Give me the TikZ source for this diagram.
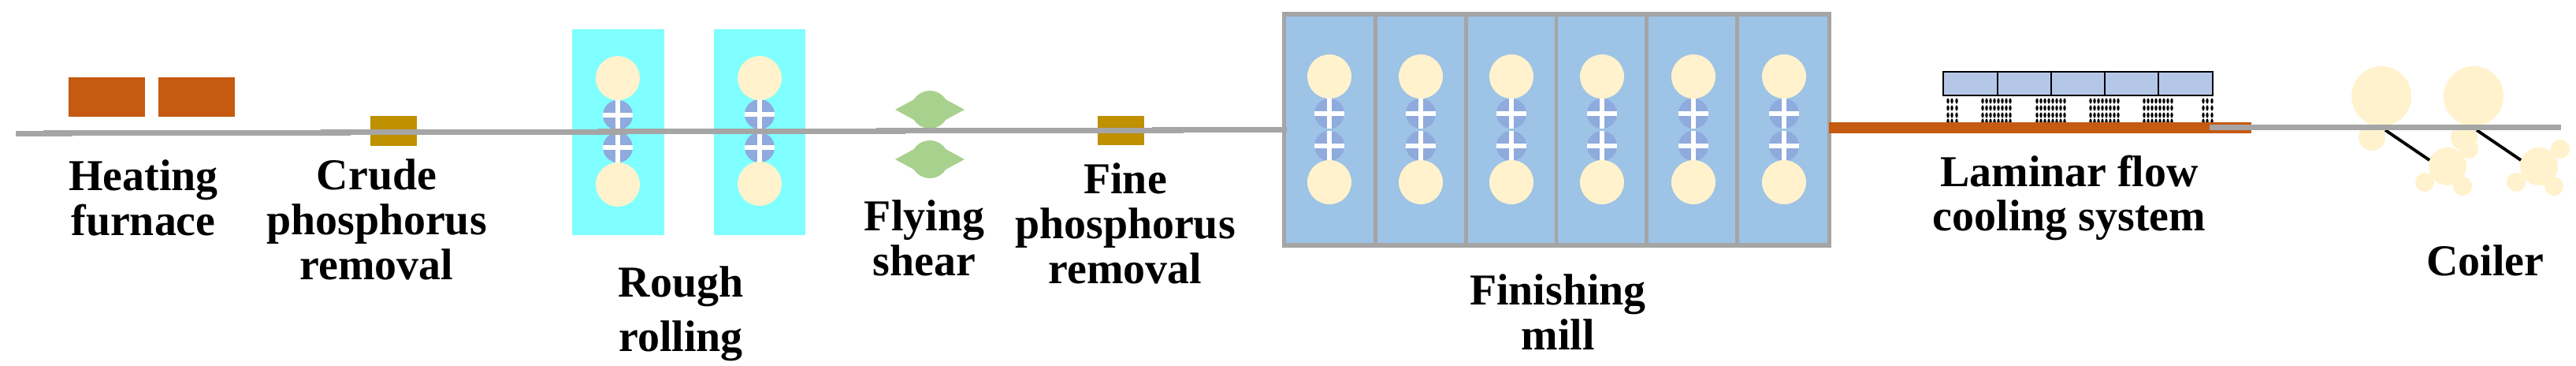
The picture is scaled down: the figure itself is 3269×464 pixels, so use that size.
\documentclass[tikz,border=0pt]{standalone}
\usepackage{fontspec}
\setmainfont{Liberation Serif}
\usetikzlibrary{calc}

\definecolor{stripGray}{HTML}{A5A5A5}
\definecolor{hotOrange}{HTML}{C55A11}
\definecolor{scaleGold}{HTML}{BF9000}
\definecolor{roughCyan}{HTML}{7FFFFF}
\definecolor{finishBlue}{HTML}{9DC3E6}
\definecolor{rollCream}{HTML}{FFF2CC}
\definecolor{rollBlue}{HTML}{8FAADC}
\definecolor{shearGreen}{HTML}{A9D18E}
\definecolor{coolBlue}{HTML}{B4C7E7}

\tikzset{
	stepText/.style = {font = \fontsize{15.9}{16.2}\selectfont\bfseries, align = center, inner sep = 0pt, anchor = base},
	stripLine/.style = {stripGray, line width = 2pt},
	crossLine/.style = {white, line width = 1.45pt},
	linkLine/.style = {black, line width = 1.1pt},
	boxLine/.style = {black, line width = 0.35pt}
}

\begin{document}
\begin{tikzpicture}[x = 0.01cm, y = -0.01cm]
		\useasboundingbox (0,0) rectangle (3269,464);

		% furnace and scale removal
		\fill [hotOrange] (87,98) rectangle (184,148);
		\fill [hotOrange] (201,98) rectangle (298,148);
		\fill [scaleGold] (470,147) rectangle (529,185);
		\fill [scaleGold] (1393,147) rectangle (1452,184);

		% stands
		\fill [roughCyan] (726,37) rectangle (843,298);
		\fill [roughCyan] (906,37) rectangle (1022,298);
		\fill [finishBlue] (1629,18) rectangle (2321,311);
		\draw [stripGray, line width = 1.6pt] (1629.5,18) rectangle (2321.5,311);
		\foreach \x in {1745.5, 1860.5, 1975, 2089.5, 2204.5}
			\draw [stripGray, line width = 1.4pt] (\x,18) -- (\x,311);

		\foreach \x/\yA/\yB/\yC/\yD in {784/99/146/187/234, 964/99/145/187/233, 1687/97/144/185/231, 1803/97/144/185/231, 1918/97/144/185/231, 2033/97/144/185/231, 2149/97/144/185/231, 2264/97/144/185/231} {
			\fill [rollBlue] (\x,\yB) circle [radius = 19];
			\fill [rollBlue] (\x,\yC) circle [radius = 19];
			\draw [crossLine] (\x-19,\yB) -- (\x+19,\yB);
			\draw [crossLine] (\x-19,\yC) -- (\x+19,\yC);
			\draw [crossLine] (\x,\yB-19) -- (\x,\yB+19);
			\draw [crossLine] (\x,\yC-19) -- (\x,\yC+19);
			\fill [rollCream] (\x,\yA) circle [radius = 28];
			\fill [rollCream] (\x,\yD) circle [radius = 28];
		}

		% flying shear
		\foreach \y in {139, 202} {
			\fill [shearGreen] (1180,\y) circle [radius = 24];
			\fill [shearGreen] (1136,\y) -- (1160,\y-13) -- (1200,\y-13) -- (1224,\y) -- (1200,\y+13) -- (1160,\y+13) -- cycle;
		}

		% laminar cooling
		\foreach \y in {128, 137, 146, 154} {
			\foreach \x in {2472, 2477, 2483, 2796, 2801, 2807}
				\fill (\x,\y) ellipse [x radius = 1.7, y radius = 3.5];
			\foreach \s in {2516, 2585, 2653, 2721}
				\foreach \k in {0,...,7}
					\fill (\s+5*\k,\y) ellipse [x radius = 1.7, y radius = 3.5];
		}
		\draw [boxLine, fill = coolBlue] (2466,91) rectangle (2808,121);
		\foreach \x in {2535, 2603, 2671, 2739}
			\draw [boxLine] (\x,91) -- (\x,121);
		\fill [hotOrange] (2321,155) rectangle (2857,169);

		% coilers
		\foreach \x/\dx in {3022/0, 3139/116} {
			\fill [rollCream] (\x,122) circle [radius = 38];
			\fill [rollCream] (\x-12,174) circle [radius = 17];
			\fill [rollCream] (3106+\dx,211) circle [radius = 24];
			\fill [rollCream] (3077+\dx,231) circle [radius = 12];
			\fill [rollCream] (3125+\dx,236) circle [radius = 12];
			\fill [rollCream] (3133+\dx,189) circle [radius = 12];
			\draw [linkLine] (3027+\dx,165) -- (3083+\dx,203);
		}

		% strip
		\begin{scope}[stripLine]
			\draw (20,169.5) -- (92,169.5);
			\draw (55,168.5) -- (445,168.5);
			\draw (407,167.5) -- (797,167.5);
			\draw (759,166.5) -- (1149,166.5);
			\draw (1112,165.5) -- (1502,165.5);
			\draw (1462,164.2) -- (1633,164.2);
			\draw (2804,161.5) -- (3250,161.5);
		\end{scope}

		\node [stepText] (heatingText) at (182,298) {Heating\\furnace};
		\node [stepText] (crudeText) at (478,354) {Crude\\phosphorus\\removal};
		\node [stepText] (roughText) at (864,445) {Rough\\[3.4pt]rolling};
		\node [stepText] (shearText) at (1173,349) {Flying\\shear};
		\node [stepText] (fineText) at (1428,359) {Fine\\phosphorus\\removal};
		\node [stepText] (finishText) at (1977,443) {Finishing\\mill};
		\node [stepText] (coolText) at (2626,293) {Laminar flow\\cooling system};
		\node [stepText] (coilerText) at (3154,349) {Coiler};
	\end{tikzpicture}
\end{document}
